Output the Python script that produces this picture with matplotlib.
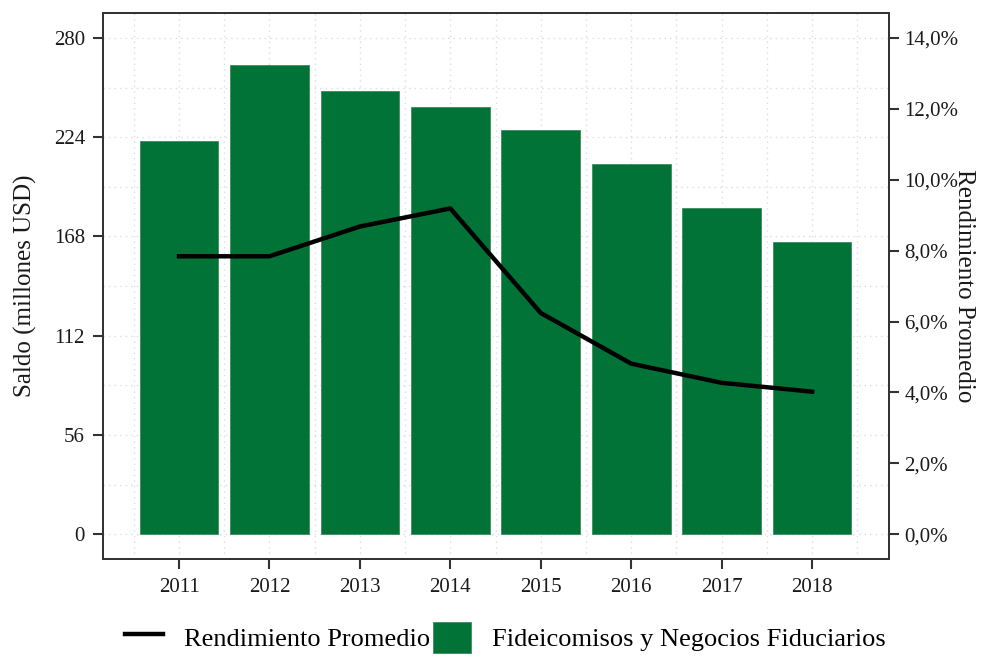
import numpy as np
import matplotlib
matplotlib.use('Agg')
import matplotlib.pyplot as plt
from matplotlib.ticker import MultipleLocator, FuncFormatter

# Data
years = [2011, 2012, 2013, 2014, 2015, 2016, 2017, 2018]
saldo = [222, 265, 250, 241, 228, 209, 184, 165]                  # millones USD
rendimiento = [7.84, 7.84, 8.68, 9.19, 6.24, 4.81, 4.27, 4.02]    # %

bar_color = '#017337'
text_color = '#1a1a1a'
axis_color = '#333333'

plt.rcParams['font.family'] = ['Liberation Serif', 'DejaVu Serif']

fig = plt.figure(figsize=(9.87, 6.57), dpi=100)
ax = fig.add_axes([0.1044, 0.1492, 0.7963, 0.8308])

# Bars on left axis
bars = ax.bar(years, saldo, width=0.87, color=bar_color, edgecolor='#3a8c5e',
              linewidth=0.6, zorder=2, label='Fideicomisos y Negocios Fiduciarios')

ax.set_xlim(2010.16, 2018.85)
ax.set_ylim(-14, 294)
ax.yaxis.set_major_locator(MultipleLocator(56))
ax.yaxis.set_minor_locator(MultipleLocator(28))
ax.set_xticks(years)
ax.set_xticks(np.arange(2010.5, 2019, 1), minor=True)

# Grid (dotted, light)
ax.grid(which='both', color='#dcdcdc', ls=(0, (1, 3)), lw=1.0, zorder=0)
ax.set_axisbelow(True)

# Right axis for the yield, scaled so that 1% = 20 units
ax2 = ax.twinx()
ax2.set_ylim(-14 / 20, 294 / 20)
ax2.yaxis.set_major_locator(MultipleLocator(2))
ax2.yaxis.set_major_formatter(FuncFormatter(lambda v, p: f'{v:.1f}%'.replace('.', ',')))
line, = ax2.plot(years, rendimiento, color='black', lw=3.2, zorder=3,
                 solid_joinstyle='round', label='Rendimiento Promedio')

for a in (ax, ax2):
    for s in a.spines.values():
        s.set_color(axis_color)
        s.set_linewidth(1.3)
    a.tick_params(which='major', length=7, width=1.5, color=axis_color,
                  labelsize=15, labelcolor=text_color, pad=4)
    a.tick_params(which='minor', length=0)
ax.tick_params(axis='x', pad=7)
ax.tick_params(axis='y', pad=6)

ax.set_ylabel('Saldo (millones USD)', fontsize=18, color=text_color, labelpad=12)
ax2.set_ylabel('Rendimiento Promedio', fontsize=18, color=text_color,
               rotation=270, labelpad=12)

fig.legend(handles=[line, bars], labels=['Rendimiento Promedio',
                                         'Fideicomisos y Negocios Fiduciarios'],
           loc='lower center', bbox_to_anchor=(0.512, -0.03), ncol=2, frameon=False,
           fontsize=19, handlelength=1.45, handleheight=1.45, columnspacing=0.1,
           handletextpad=0.8)

fig.savefig('out.png', dpi=100)
